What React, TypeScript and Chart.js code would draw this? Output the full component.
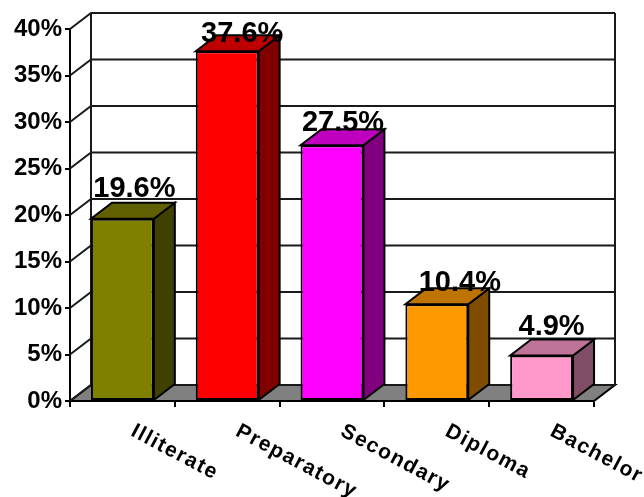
import React, { useEffect, useRef } from "react";
import { Chart, registerables } from "chart.js";

Chart.register(...registerables);

const categories = ["Illiterate", "Preparatory", "Secondary", "Diploma", "Bachelor"];
const shares = [19.6, 37.6, 27.5, 10.4, 4.9];
const frontColors = ["#808000", "#ff0000", "#ff00ff", "#ff9900", "#ff99cc"];
const topColors = ["#606000", "#bf0000", "#bf00bf", "#bf7300", "#bf7399"];
const sideColors = ["#404000", "#800000", "#800080", "#804d00", "#804d66"];

// Hand placement of each value label relative to the top centre of its bar.
const labelNudgeX = [12, 15, 11, 23, 10];
const labelNudgeY = [-22, -9, -14, -13, -20];

const FONT = '"Liberation Sans", Arial, sans-serif';
const DEPTH_X = 21;
const DEPTH_Y = 16;

function polygon(ctx: CanvasRenderingContext2D, pts: number[][], fill?: string) {
  ctx.beginPath();
  pts.forEach(([x, y], i) => (i ? ctx.lineTo(x, y) : ctx.moveTo(x, y)));
  ctx.closePath();
  if (fill) {
    ctx.fillStyle = fill;
    ctx.fill();
  }
  ctx.stroke();
}

// Back wall, side wall and floor of the 3-D box, positioned from the scales.
const boxPlugin = {
  id: "box3d",
  beforeDatasetsDraw(chart: any) {
    const { ctx, chartArea: a, scales } = chart;
    ctx.save();
    ctx.strokeStyle = "#000";
    ctx.lineWidth = 2;
    ctx.lineJoin = "miter";
    polygon(ctx, [
      [a.left, a.bottom],
      [a.left + DEPTH_X, a.bottom - DEPTH_Y],
      [a.right + DEPTH_X, a.bottom - DEPTH_Y],
      [a.right, a.bottom],
    ], "#808080");
    ctx.strokeStyle = "#1a1a1a";
    for (const tick of scales.y.ticks) {
      const y = scales.y.getPixelForValue(tick.value);
      ctx.beginPath();
      ctx.moveTo(a.left, y);
      ctx.lineTo(a.left + DEPTH_X, y - DEPTH_Y);
      ctx.lineTo(a.right + DEPTH_X, y - DEPTH_Y);
      ctx.stroke();
    }
    ctx.beginPath();
    ctx.moveTo(a.left + DEPTH_X, a.top - DEPTH_Y);
    ctx.lineTo(a.left + DEPTH_X, a.bottom - DEPTH_Y);
    ctx.moveTo(a.right + DEPTH_X, a.top - DEPTH_Y);
    ctx.lineTo(a.right + DEPTH_X, a.bottom - DEPTH_Y);
    ctx.stroke();

    // Top and side faces of every bar, taken from the bar elements.
    ctx.strokeStyle = "#000";
    chart.getDatasetMeta(0).data.forEach((bar: any, i: number) => {
      const l = bar.x - bar.width / 2;
      const r = bar.x + bar.width / 2;
      const t = bar.y;
      const b = bar.base;
      polygon(ctx, [[r, t], [r + DEPTH_X, t - DEPTH_Y], [r + DEPTH_X, b - DEPTH_Y], [r, b]], sideColors[i]);
      polygon(ctx, [[l, t], [l + DEPTH_X, t - DEPTH_Y], [r + DEPTH_X, t - DEPTH_Y], [r, t]], topColors[i]);
    });
    ctx.restore();
  },
  afterDatasetsDraw(chart: any) {
    const { ctx, scales, chartArea } = chart;
    ctx.save();
    ctx.fillStyle = "#000";

    // Value labels above the bars.
    ctx.font = `bold 29px ${FONT}`;
    ctx.textAlign = "center";
    ctx.textBaseline = "alphabetic";
    chart.getDatasetMeta(0).data.forEach((bar: any, i: number) => {
      ctx.fillText(`${shares[i].toFixed(1)}%`, bar.x + labelNudgeX[i], bar.y + labelNudgeY[i]);
    });

    // Slanted category labels running downwards to the right.
    ctx.font = `bold 21px ${FONT}`;
    (ctx as any).letterSpacing = "1.5px";
    ctx.textAlign = "left";
    ctx.textBaseline = "middle";
    categories.forEach((name, i) => {
      ctx.save();
      ctx.translate(scales.x.getPixelForValue(i) + 10, chartArea.bottom + 29);
      ctx.rotate((28 * Math.PI) / 180);
      ctx.fillText(name, 0, 0);
      ctx.restore();
    });
    ctx.restore();
  },
};

export default function App() {
  const ref = useRef<HTMLCanvasElement>(null);

  useEffect(() => {
    const chart = new Chart(ref.current!, {
      type: "bar",
      data: {
        labels: categories,
        datasets: [
          {
            data: shares,
            backgroundColor: frontColors,
            borderColor: "#000",
            borderWidth: 2,
            borderSkipped: false,
            categoryPercentage: 1,
            barPercentage: 0.6,
          },
        ],
      },
      options: {
        responsive: false,
        animation: false,
        layout: { padding: { top: 29, right: 50, left: 0, bottom: 0 } },
        plugins: { legend: { display: false }, tooltip: { enabled: false } },
        scales: {
          x: {
            afterFit: (s: any) => {
              s.height = 96;
            },
            grid: {
              offset: true,
              drawOnChartArea: false,
              color: "#000",
              lineWidth: 2,
              tickLength: 6,
            },
            border: { color: "#000", width: 2 },
            ticks: { display: false },
          },
          y: {
            min: 0,
            max: 40,
            afterFit: (s: any) => {
              s.width = 70;
            },
            grid: {
              drawOnChartArea: false,
              color: "#000",
              lineWidth: 2,
              tickLength: 5,
            },
            border: { color: "#000", width: 2 },
            ticks: {
              stepSize: 5,
              padding: 3,
              color: "#000",
              font: { family: FONT, size: 24, weight: "bold" },
              callback: (v: any) => `${v}%`,
            },
          },
        },
      },
      plugins: [boxPlugin],
    } as any);
    return () => chart.destroy();
  }, []);

  return (
    <div style={{ position: "fixed", left: 0, top: 0, width: 644, height: 497, background: "#fff" }}>
      <canvas ref={ref} width={644} height={497} style={{ display: "block" }} />
    </div>
  );
}
